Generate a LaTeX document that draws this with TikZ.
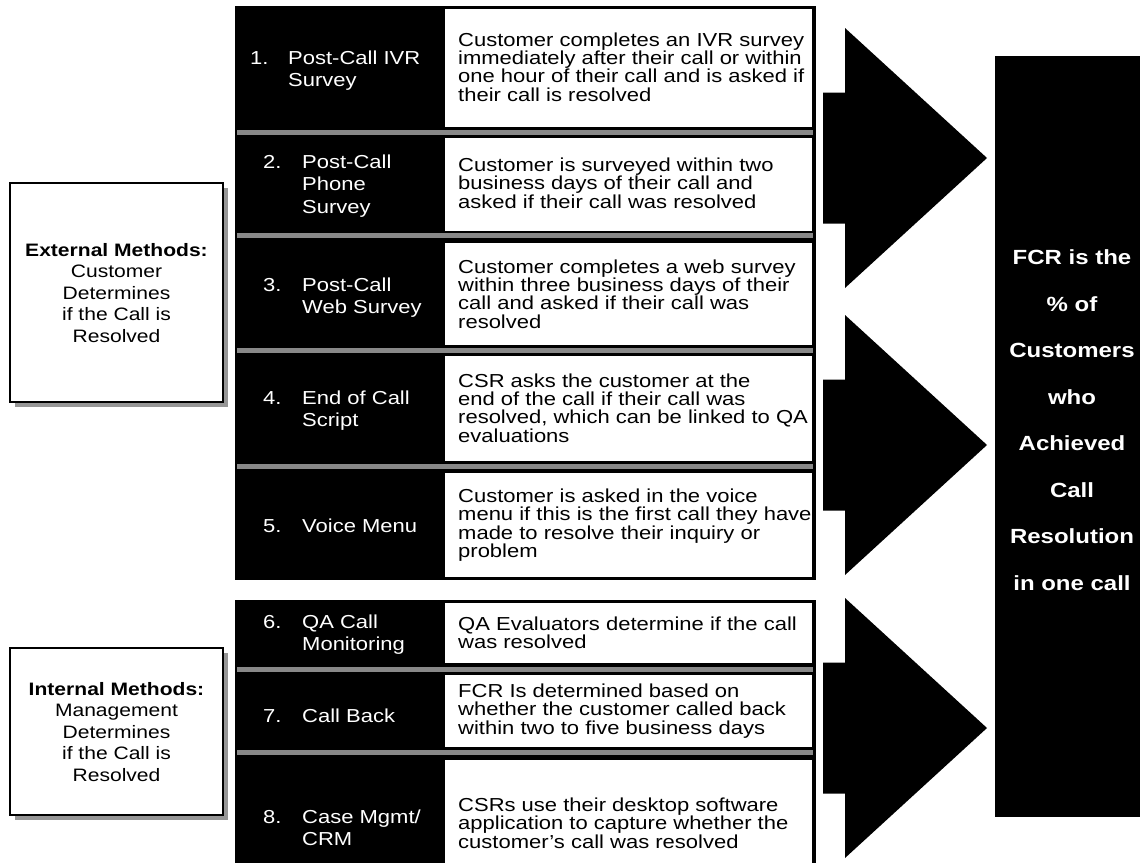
\documentclass[tikz,border=0pt]{standalone}
\usepackage{fontspec}
\setmainfont{Liberation Sans}[FakeStretch=1.17]
\definecolor{bargray}{RGB}{136,136,136}
\definecolor{shadowgray}{RGB}{150,150,150}
\begin{document}
\begin{tikzpicture}[x=1pt,y=-1pt,
  panel/.style={fill=black,draw=none},
  cell/.style={fill=white,draw=none},
  sepbar/.style={fill=bargray,draw=none},
  desc/.style={anchor=west,inner sep=0pt,align=left,text=black,font=\fontsize{18.8}{18.3}\selectfont},
  lbl/.style={anchor=west,inner sep=0pt,align=left,text=white,font=\fontsize{18.8}{22.5}\selectfont},
  sidebox/.style={draw=black,line width=2.5pt,fill=white},
  sideshadow/.style={fill=shadowgray,draw=none},
  sidetext/.style={align=center,inner sep=0pt,text=black,font=\fontsize{18}{21.5}\selectfont},
  resulttext/.style={align=center,inner sep=0pt,text=white,font=\fontsize{20.5}{46.5}\selectfont\bfseries},
  blockarrow/.style={fill=black,draw=none}]
\useasboundingbox (0,0) rectangle (1140,862);
\clip (0,0) rectangle (1140,862);
\fill[white] (0,0) rectangle (1140,862);

% panels
\fill[panel] (235,6) rectangle (816,580);
\fill[panel] (235,600) rectangle (816,900);

% white description cells
\foreach \ya/\yb in {9/127,138/231,243/345,356/461,473/577,603/663,675/747,760/900}
  \fill[cell] (445,\ya) rectangle (812,\yb);

% gray separator bars
\foreach \ya/\yb in {130/135,233/238,348/353,464/469,667/672,750/755}
  \fill[sepbar] (237,\ya) rectangle (813,\yb);

% method labels
\newcommand{\mlabel}[2]{\begin{tabular}{@{}p{38pt}@{}l@{}}#1 & #2\end{tabular}}
\node[lbl] (l1) at (250,71) {\begin{tabular}{@{}p{38pt}@{}l@{}}1. & Post-Call IVR\\ & Survey\end{tabular}};
\node[lbl] (l2) at (263,186) {\begin{tabular}{@{}p{39pt}@{}l@{}}2. & Post-Call\\ & Phone\\ & Survey\end{tabular}};
\node[lbl] (l3) at (263,298) {\begin{tabular}{@{}p{39pt}@{}l@{}}3. & Post-Call\\ & Web Survey\end{tabular}};
\node[lbl] (l4) at (263,411) {\begin{tabular}{@{}p{39pt}@{}l@{}}4. & End of Call\\ & Script\end{tabular}};
\node[lbl] (l5) at (263,528) {\begin{tabular}{@{}p{39pt}@{}l@{}}5. & Voice Menu\end{tabular}};
\node[lbl] (l6) at (263,635) {\begin{tabular}{@{}p{39pt}@{}l@{}}6. & QA Call\\ & Monitoring\end{tabular}};
\node[lbl] (l7) at (263,718) {\begin{tabular}{@{}p{39pt}@{}l@{}}7. & Call Back\end{tabular}};
\node[lbl] (l8) at (263,830) {\begin{tabular}{@{}p{39pt}@{}l@{}}8. & Case Mgmt/\\ & CRM\end{tabular}};

% descriptions
\node[desc] (d1) at (458,67) {Customer completes an IVR survey\\immediately after their call or within\\one hour of their call and is asked if\\their call is resolved};
\node[desc] (d2) at (458,183) {Customer is surveyed within two\\business days of their call and\\asked if their call was resolved};
\node[desc] (d3) at (458,294) {Customer completes a web survey\\within three business days of their\\call and asked if their call was\\resolved};
\node[desc] (d4) at (458,408) {CSR asks the customer at the\\end of the call if their call was\\resolved, which can be linked to QA\\evaluations};
\node[desc] (d5) at (458,525) {Customer is asked in the voice\\menu if this is the first call they have\\made to resolve their inquiry or\\problem};
\node[desc] (d6) at (458,633) {QA Evaluators determine if the call\\was resolved};
\node[desc] (d7) at (458,711) {FCR Is determined based on\\whether the customer called back\\within two to five business days};
\node[desc] (d8) at (458,823) {CSRs use their desktop software\\application to capture whether the\\customer’s call was resolved};

% side boxes
\fill[sideshadow] (15,188) rectangle (228,407);
\draw[sidebox] (10,183) rectangle (223,402);
\node[sidetext] (ext) at (116.5,293) {\textbf{External Methods:}\\Customer\\Determines\\if the Call is\\Resolved};
\fill[sideshadow] (15,653) rectangle (228,820);
\draw[sidebox] (10,648) rectangle (223,815);
\node[sidetext] (int) at (116.5,732) {\textbf{Internal Methods:}\\Management\\Determines\\if the Call is\\Resolved};

% block arrows
\foreach \yc in {158,445,728}
  \fill[blockarrow] (823,\yc-65.5) -- (845,\yc-65.5) -- (845,\yc-130) -- (987,\yc)
     -- (845,\yc+130) -- (845,\yc+65.5) -- (823,\yc+65.5) -- cycle;

% result box
\fill[black] (995,56) rectangle (1150,817);
\node[resulttext] (res) at (1072,420) {FCR is the\\\% of\\Customers\\who\\Achieved\\Call\\Resolution\\in one call};
\end{tikzpicture}
\end{document}
